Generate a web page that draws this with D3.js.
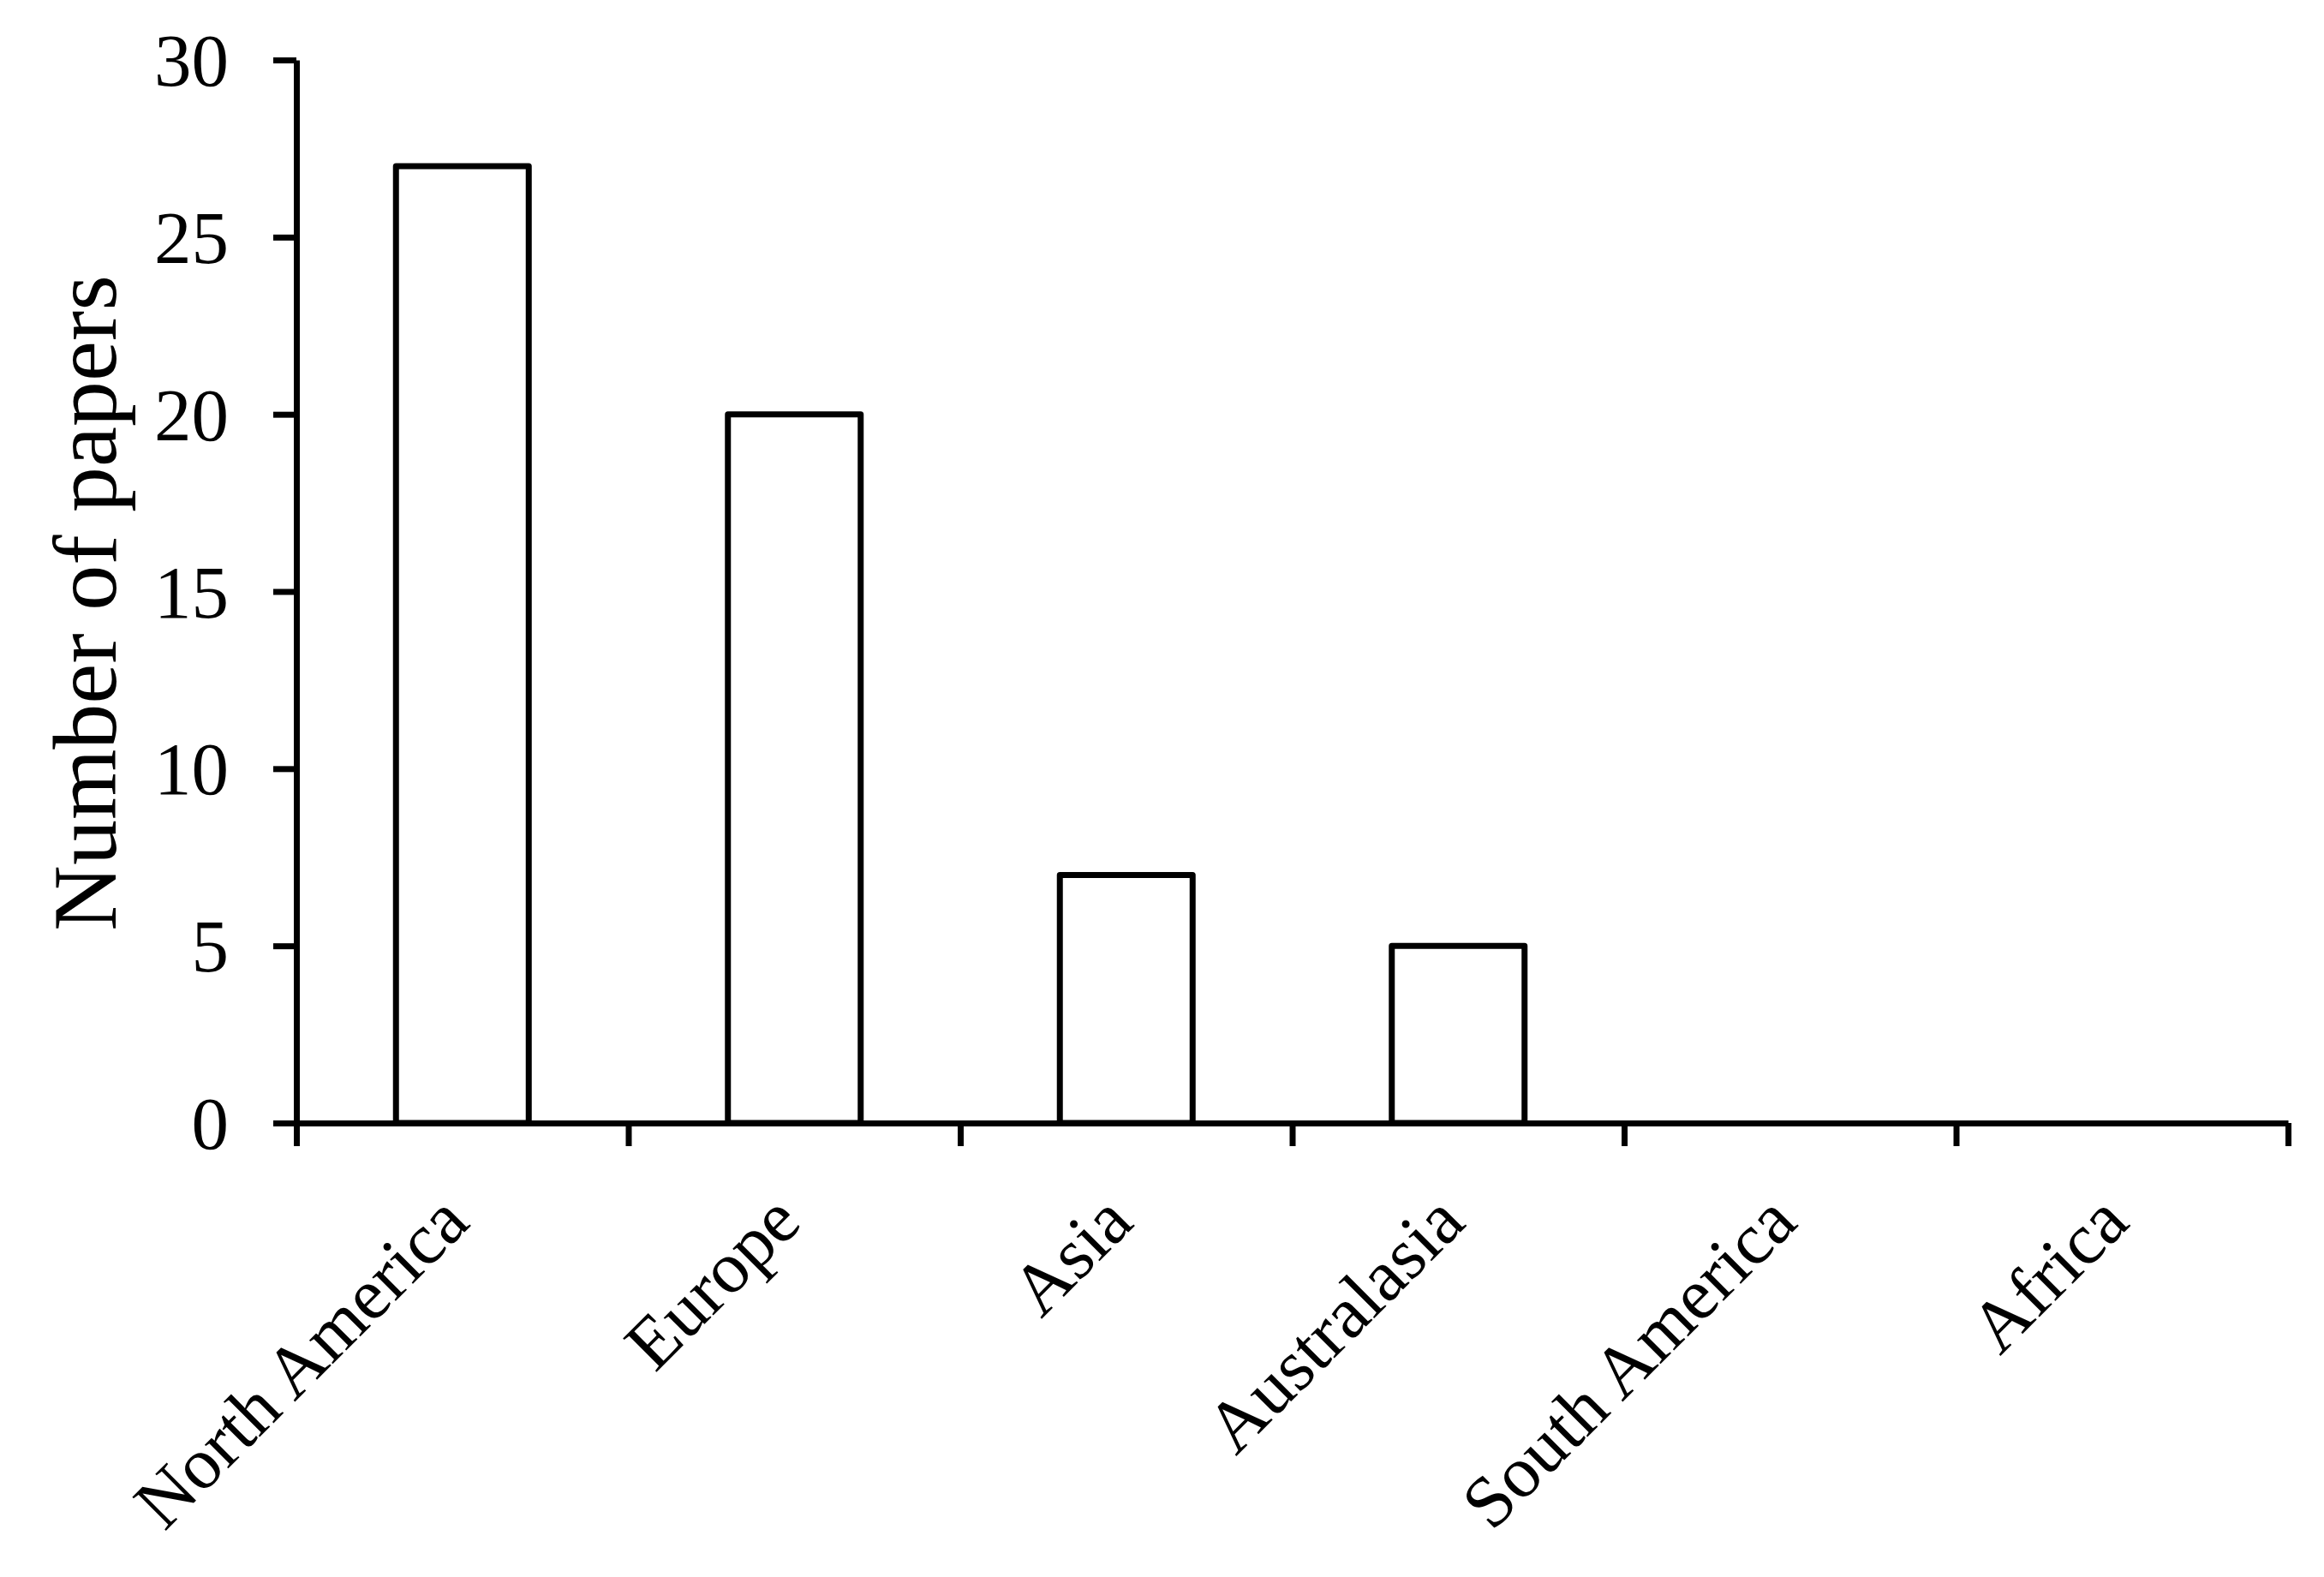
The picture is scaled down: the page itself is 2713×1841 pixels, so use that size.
<!DOCTYPE html>
<meta charset="utf-8">
<script src="https://cdn.jsdelivr.net/npm/d3@7"></script>
<head>
<style>
    body { margin: 0; background: #fff; }
    text { font-family: "Liberation Serif", "Times New Roman", serif; fill: #000; }
</style>
</head>
<body>
<script>

    // data
    var regions = ["North America", "Europe", "Asia", "Australasia", "South America", "Africa"];
    var papers = [27, 20, 7, 5, 0, 0];
    var yTicks = [0, 5, 10, 15, 20, 25, 30];

    var svgWidth = 2713;
    var svgHeight = 1841;

    var plotLeft = 346;   // y axis
    var plotRight = 2671; // end of x axis
    var plotTop = 70;     // y = 30
    var plotBottom = 1311; // y = 0

    var svg = d3.select("body").append("svg")
        .attr("width", svgWidth)
        .attr("height", svgHeight);

    var x = d3.scaleBand()
        .domain(regions)
        .range([plotLeft, plotRight])
        .paddingInner(0.6)
        .paddingOuter(0.3);

    // boundaries between categories, for the tick marks
    var xEdges = d3.scaleLinear()
        .domain([0, regions.length])
        .range([plotLeft, plotRight]);

    var y = d3.scaleLinear()
        .domain([0, 30])
        .range([plotBottom, plotTop]);

    // bars
    svg.selectAll(".bar")
        .data(regions)
        .enter()
        .append("rect")
        .attr("class", "bar")
        .attr("x", function(d) { return x(d); })
        .attr("y", function(d, i) { return y(papers[i]); })
        .attr("width", x.bandwidth())
        .attr("height", function(d, i) { return y(0) - y(papers[i]); })
        .style("fill", "#fff")
        .style("stroke", "#000")
        .style("stroke-width", 7)
        .style("stroke-linejoin", "round");

    // y axis
    var yAxis = svg.append("g")
        .attr("transform", "translate(" + plotLeft + ",0)")
        .call(d3.axisLeft(y)
            .tickValues(yTicks)
            .tickSize(27)
            .tickSizeOuter(0)
            .tickPadding(52));

    // x axis, ticks between categories
    var xAxis = svg.append("g")
        .attr("transform", "translate(0," + plotBottom + ")")
        .call(d3.axisBottom(xEdges)
            .tickValues(d3.range(regions.length + 1))
            .tickFormat("")
            .tickSize(27)
            .tickSizeOuter(0));

    svg.selectAll(".domain, .tick line")
        .style("stroke", "#000")
        .style("stroke-width", 7);

    yAxis.selectAll(".tick text")
        .attr("dy", "0.34em")
        .style("font-family", "'Liberation Serif', 'Times New Roman', serif")
        .style("font-size", "87px")
        .style("fill", "#000");

    // rotated category labels
    svg.selectAll(".catLabel")
        .data(regions)
        .enter()
        .append("text")
        .attr("class", "catLabel")
        .attr("text-anchor", "end")
        .attr("transform", function(d) {
            var cx = x(d) + x.bandwidth() / 2 + 11;
            return "translate(" + cx + ",1430) rotate(-45)";
        })
        .style("font-size", "85px")
        .text(function(d) { return d; });

    // y axis title
    svg.append("text")
        .attr("text-anchor", "middle")
        .attr("transform", "translate(135,704) rotate(-90)")
        .style("font-size", "106px")
        .text("Number of papers");

</script>
</body>
</html>
